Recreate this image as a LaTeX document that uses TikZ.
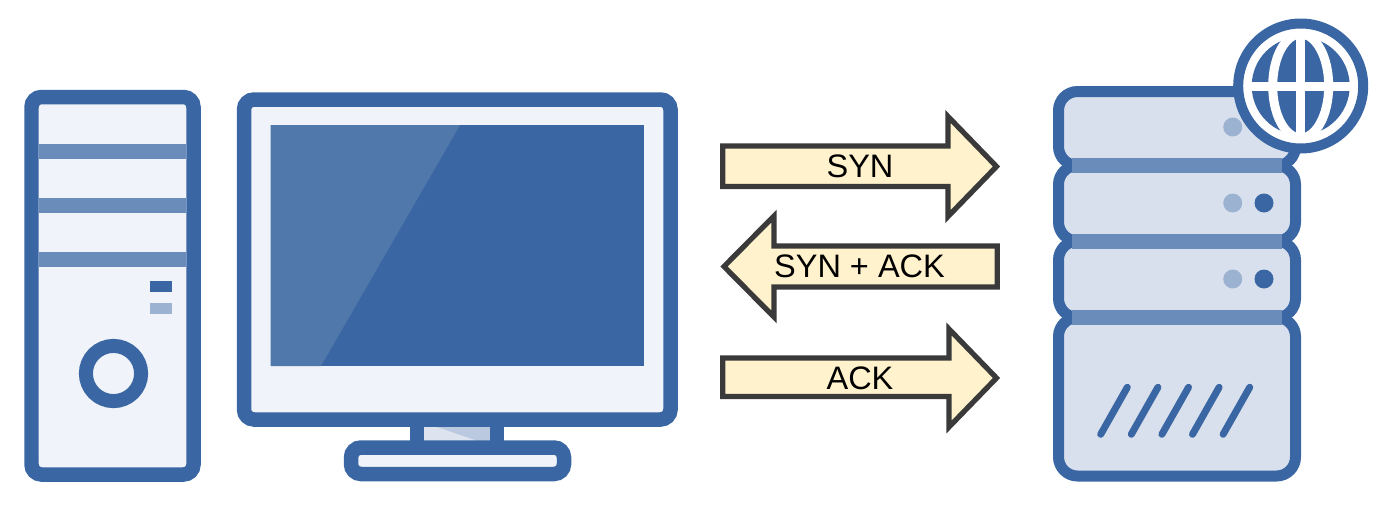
\documentclass[tikz,border=0pt]{standalone}
\usepackage{fontspec}
\setmainfont{Liberation Sans}
\usetikzlibrary{calc}
\definecolor{darkblue}{HTML}{3A67A3}
\definecolor{midblue}{HTML}{6A8CBA}
\definecolor{ledblue}{HTML}{9CB2D1}
\definecolor{paleblue}{HTML}{F0F3F9}
\definecolor{serverblue}{HTML}{D9E0ED}
\definecolor{shineblue}{HTML}{5078AA}
\definecolor{arrowfill}{HTML}{FFF2CC}
\definecolor{arrowline}{HTML}{3A3A3A}
\tikzset{
  case/.style={draw=darkblue,fill=paleblue,line width=0.29cm,rounded corners=0.2cm},
  unit/.style={draw=darkblue,fill=serverblue,line width=0.22cm,rounded corners=0.38cm},
  signal/.style={draw=arrowline,fill=arrowfill,line width=0.105cm},
  signaltext/.style={font=\fontsize{18.5pt}{20pt}\selectfont,inner sep=0pt,text=black}
}
\begin{document}
\begin{tikzpicture}[x=0.02cm,y=-0.02cm]
        \useasboundingbox (0,0) rectangle (1382,504);
        % Tower
        \draw[case] (31.5,97) rectangle (193.5,474.5);
        \foreach \y in {144,198,252}
        \fill[midblue] (39,\y) rectangle (186,\y+14.5);
        \fill[darkblue] (150,281) rectangle (172,292);
        \fill[ledblue] (150,303) rectangle (172,314);
        \draw[darkblue,line width=0.28cm] (113.5,373.5) circle (27.6);
        % Monitor
        \fill[paleblue] (418,430) rectangle (497,445);
        \fill[serverblue!80!paleblue] (424,427) rectangle (490,441);
        \fill[ledblue!50!serverblue] (437,427) -- (490,427) -- (490,441) -- (478,441) -- cycle;
        \draw[darkblue,line width=0.28cm] (417,420) -- (417,448);
        \draw[darkblue,line width=0.28cm] (497,420) -- (497,448);
        \draw[case] (244,99.5) rectangle (670.5,419.5);
        \draw[case] (351,447.5) rectangle (564,474);
        \fill[darkblue] (270.5,125) rectangle (643.5,366);
        \fill[shineblue] (270.5,125) -- (460,125) -- (321,366) -- (270.5,366) -- cycle;
        % Server
        \draw[unit] (1058.5,91.5) rectangle (1295.5,165.5);
        \draw[unit] (1058.5,165.5) rectangle (1295.5,241);
        \draw[unit] (1058.5,241) rectangle (1295.5,317.5);
        \draw[unit] (1058.5,317.5) rectangle (1295.5,476);
        \foreach \y in {158,234,310}
        \fill[midblue] (1072,\y) rectangle (1282,\y+15);
        \foreach \y in {127,203,279}
        \fill[ledblue] (1232.7,\y) circle (9.5);
        \foreach \y in {203,279}
        \fill[darkblue] (1264,\y) circle (9.5);
        \foreach \i in {0,...,4}
        \draw[darkblue,line width=0.14cm,line cap=round] (1100.7+30.6*\i,434.3) -- (1127.3+30.6*\i,387.3);
        % Globe
        \coordinate (G) at (1300.7,86);
        \draw[darkblue,fill=white,line width=0.2cm] (G) circle (62.5);
        \fill[darkblue] (G) circle (49);
        \draw[white,line width=0.18cm] (G) ellipse [x radius=28,y radius=52];
        \draw[white,line width=0.18cm] (1300.7,30) -- (1300.7,142);
        \draw[white,line width=0.18cm] (1244,86) -- (1357,86);
        % Arrows
        \draw[signal] (722.7,146) -- (948,146) -- (948,116.5) -- (996.5,166.5) -- (948,216.5) -- (948,186.5) -- (722.7,186.5) -- cycle;
        \draw[signal] (997.3,246) -- (774,246) -- (774,216) -- (724,266.5) -- (774,317) -- (774,287) -- (997.3,287) -- cycle;
        \draw[signal] (722.7,358) -- (949,358) -- (949,329) -- (996.5,378) -- (949,427) -- (949,396.5) -- (722.7,396.5) -- cycle;
        \node[signaltext] (syn) at (860,166.5) {SYN};
        \node[signaltext] (synack) at (859.5,266.7) {SYN + ACK};
        \node[signaltext] (ack) at (860,378) {ACK};
\end{tikzpicture}
\end{document}
